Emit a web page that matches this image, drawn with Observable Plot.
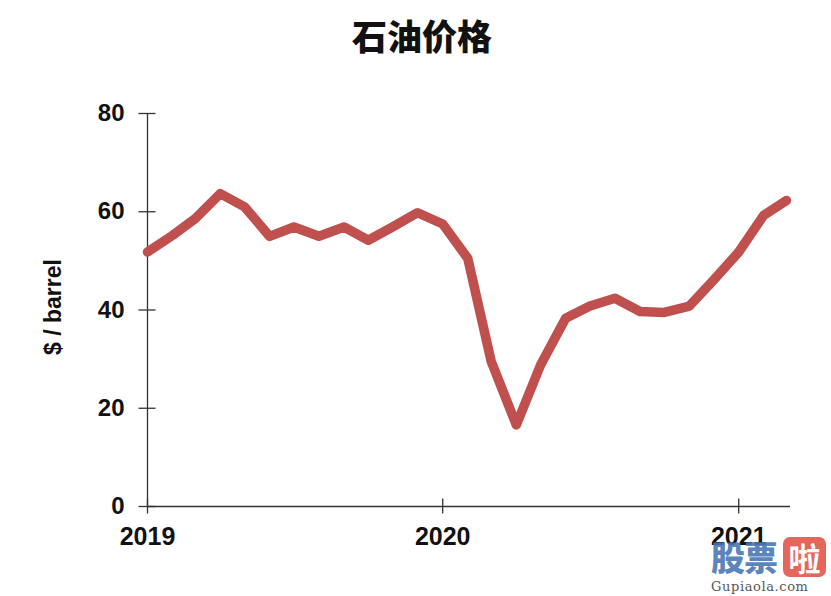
<!DOCTYPE html>
<html><head><meta charset="utf-8">
<script src="https://cdn.jsdelivr.net/npm/d3@7"></script>
<script src="https://cdn.jsdelivr.net/npm/@observablehq/plot@0.6"></script>
<style>
body{margin:0;background:#fff;width:831px;height:596px;overflow:hidden;position:relative;font-family:"Liberation Sans",Arial,sans-serif;}
#title{height:70px;line-height:70px;text-align:center;font-family:"Noto Sans CJK SC";font-weight:900;font-size:35px;color:#111;padding-left:13px;box-sizing:border-box;}
#chart svg{display:block;}
#wm{position:absolute;left:711px;top:536px;width:118px;opacity:0.9;}
#wm .row{display:flex;align-items:center;height:42px;}
#wm .a{font-family:"Noto Sans CJK SC";font-weight:900;font-size:34px;color:#4a78b5;line-height:42px;letter-spacing:-1px;}
#wm .b{margin-left:6px;background:#e2574c;color:#fff;border-radius:7px;font-family:"Noto Sans CJK SC";font-weight:700;font-size:32px;line-height:40px;width:43px;text-align:center;}
#wm .c{font-family:"DejaVu Serif";font-size:13px;color:#444;letter-spacing:0.6px;margin-top:1px;}
</style></head><body>
<div id="title">石油价格</div>
<div id="chart"></div>
<div id="wm"><div class="row"><span class="a">股票</span><span class="b">啦</span></div><div class="c">Gupiaola.com</div></div>
<script>
const months = ["2019-01","2019-02","2019-03","2019-04","2019-05","2019-06","2019-07","2019-08","2019-09","2019-10","2019-11","2019-12",
                "2020-01","2020-02","2020-03","2020-04","2020-05","2020-06","2020-07","2020-08","2020-09","2020-10","2020-11","2020-12",
                "2021-01","2021-02","2021-03"];
const prices = [51.8,55.2,58.6,63.7,61.0,55.0,56.9,55.0,56.9,54.2,57.0,59.8,
                57.5,50.5,29.5,16.6,28.8,38.3,40.8,42.4,39.7,39.5,40.8,46.1,
                51.8,59.3,62.3];
const yTicks = [0,20,40,60,80];
const xTickLabels = ["2019","2020","2021"];
const yLabel = "$ / barrel";
const xEnd = "2021-03-06";

const data = months.map((m,i)=>({date:new Date(m+"-01T00:00:00Z"), price:prices[i]}));
const xTicks = xTickLabels.map(y=>new Date(y+"-01-01T00:00:00Z"));
const font = {fontFamily:"Liberation Sans, Arial, sans-serif", fontWeight:"bold", fill:"#111"};

const chart = Plot.plot({
  width:831, height:526,
  marginLeft:147, marginRight:41, marginTop:43, marginBottom:90,
  x:{type:"utc", domain:[xTicks[0], new Date(xEnd+"T00:00:00Z")]},
  y:{domain:[0,80]},
  marks:[
    Plot.ruleY([0], {stroke:"#333", strokeWidth:1.3}),
    Plot.ruleX([xTicks[0]], {y1:yTicks[0], y2:yTicks[yTicks.length-1], stroke:"#333", strokeWidth:1.3}),
    Plot.axisY(yTicks, {tickSize:17, dx:8.5, tickFormat:()=>"", label:null, stroke:"#333", strokeWidth:1.3}),
    Plot.axisY(yTicks, {tickSize:0, tickPadding:23, label:null, fontSize:24, ...font}),
    Plot.axisX(xTicks, {tickSize:15, dy:-7.5, tickFormat:()=>"", label:null, stroke:"#333", strokeWidth:1.3}),
    Plot.axisX(xTicks, {tickSize:0, tickPadding:21, tickFormat:d3.utcFormat("%Y"), label:null, fontSize:25, ...font}),
    Plot.text([yLabel], {frameAnchor:"left", textAnchor:"middle", rotate:-90, dx:-94, dy:-3, fontSize:23, ...font}),
    Plot.line(data, {x:"date", y:"price", stroke:"#c0504d", strokeWidth:9.5, strokeLinejoin:"round"})
  ]
});
document.getElementById("chart").appendChild(chart);
</script>
</body></html>
